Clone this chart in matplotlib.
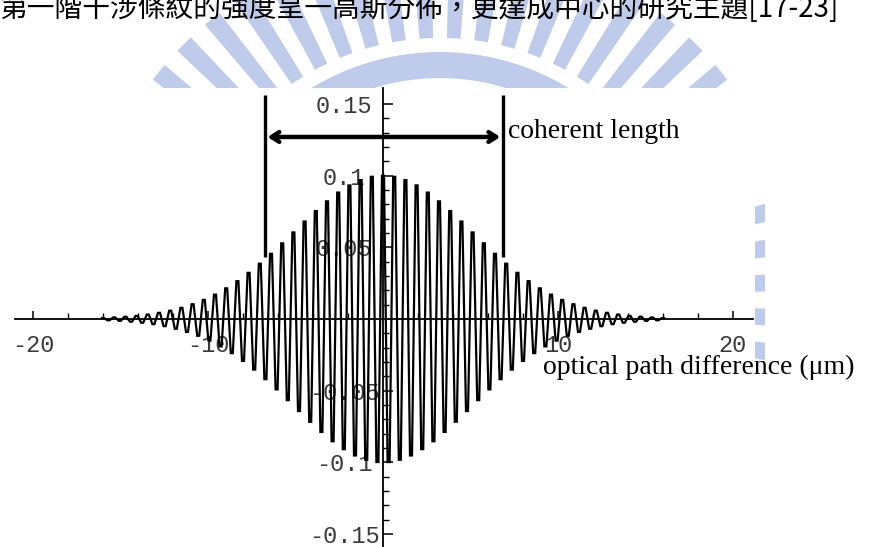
import numpy as np
import matplotlib
matplotlib.use("Agg")
import matplotlib.pyplot as plt
from matplotlib.patches import Polygon, Rectangle
from matplotlib.ticker import FixedLocator, FixedFormatter

# ---- data -------------------------------------------------------------
# fringe extrema spacing (half of the fringe period), micrometres
half_period = 0.32
# magnitude of successive fringe extrema from the centre (x = 0) outwards to x = 16 um
peak_abs = [0.1000, 0.0998, 0.0992, 0.0982, 0.0969, 0.0952, 0.0932, 0.0908, 0.0882,
            0.0853, 0.0821, 0.0788, 0.0753, 0.0717, 0.0680, 0.0642, 0.0604, 0.0566,
            0.0528, 0.0491, 0.0455, 0.0420, 0.0386, 0.0353, 0.0322, 0.0292, 0.0264,
            0.0238, 0.0214, 0.0191, 0.0170, 0.0151, 0.0133, 0.0117, 0.0103, 0.0090,
            0.0078, 0.0068, 0.0058, 0.0050, 0.0043, 0.0036, 0.0031, 0.0026, 0.0022,
            0.0019, 0.0016, 0.0013, 0.0011, 0.0009, 0.0007]
# coherence-length markers (um) and their extent in intensity
coherent_edges = [-6.75, 6.85]
marker_bottom = 0.043
marker_top = 0.156
arrow_level = 0.127

x_major = [-20, -10, 10, 20]
x_labels = ["-20", "-10", "10", "20"]
x_minor = [-18, -16, -14, -12, -8, -6, -4, -2, 2, 4, 6, 8, 12, 14, 16, 18]
y_major = [-0.15, -0.1, -0.05, 0.05, 0.1, 0.15]
y_labels = ["-0.15", "-0.1", "-0.05", "0.05", "0.1", "0.15"]
y_minor = [v / 100 for v in range(-14, 15) if v % 5 != 0]

caption = "第一階干涉條紋的強度呈一高斯分佈，更達成中心的研究主題[17-23]"

# ---- build the interferogram trace from the extrema ---------------------
# each extremum is drawn as a short flat crest, giving the blocky fringe look
mags = np.array(peak_abs[::-1][:-1] + peak_abs)
k = np.arange(-(len(peak_abs) - 1), len(peak_abs))
xc = k * half_period
yc = np.where(k % 2 == 0, 1.0, -1.0) * mags
crest = 0.18 * half_period
xs = np.column_stack([xc - crest, xc + crest]).ravel()
ys = np.repeat(yc, 2)

# ---- figure -------------------------------------------------------------
W, H = 871, 547
fig = plt.figure(figsize=(W / 100, H / 100), dpi=100)
fig.patch.set_facecolor("white")

# background layer in pixel units: faint emblem behind the pasted plot
bg = fig.add_axes([0, 0, 1, 1], zorder=0)
bg.set_xlim(0, W)
bg.set_ylim(H, 0)
bg.axis("off")
wm = "#bfcbea"
cx, cy = 440.0, 300.0


def ring_piece(r0, r1, a0, a1, n=12):
    a = np.radians(np.linspace(a0, a1, n))
    outer = np.c_[cx + r1 * np.sin(a), cy - r1 * np.cos(a)]
    inner = np.c_[cx + r0 * np.sin(a[::-1]), cy - r0 * np.cos(a[::-1])]
    return np.vstack([outer, inner])


for ang in np.arange(-99, 100, 6.0):
    bg.add_patch(Polygon(ring_piece(262, 362, ang - 1.5, ang + 1.5), closed=True,
                         facecolor=wm, edgecolor="none"))
bg.add_patch(Polygon(ring_piece(222, 248, -80, 80, 60), closed=True,
                     facecolor=wm, edgecolor="none"))
# white card of the plot itself
bg.add_patch(Rectangle((0, 88), 755, H - 88, facecolor="white", edgecolor="none"))
bg.add_patch(Rectangle((765, 100), W - 765, H - 100, facecolor="white", edgecolor="none"))
bg.add_patch(Rectangle((754, 410), 12, H - 410, facecolor="white", edgecolor="none"))
bg.add_patch(Rectangle((754, 88), 12, 100, facecolor="white", edgecolor="none"))

# caption line running off the top edge
fig.text(0.0, 1 - 17 / H, caption, fontsize=20, ha="left", va="baseline",
         family=["Noto Sans CJK TC", "DejaVu Sans"], color="black", zorder=2)

ax = fig.add_axes([0, 0, 1, 1], zorder=1)
ax.set_xlim(-21.886, 27.886)
ax.set_ylim(-0.15907, 0.22256)
ax.patch.set_alpha(0)

for s in ("top", "right"):
    ax.spines[s].set_visible(False)
ax.spines["left"].set_position(("data", 0))
ax.spines["bottom"].set_position(("data", 0))
ax.spines["bottom"].set_bounds(-21.03, 21.14)
ax.spines["left"].set_bounds(-0.159, 0.1612)
for s in ("left", "bottom"):
    ax.spines[s].set_linewidth(1.3)
    ax.spines[s].set_color("black")

ax.xaxis.set_major_locator(FixedLocator(x_major))
ax.xaxis.set_major_formatter(FixedFormatter(x_labels))
ax.xaxis.set_minor_locator(FixedLocator(x_minor))
ax.yaxis.set_major_locator(FixedLocator(y_major))
ax.yaxis.set_major_formatter(FixedFormatter(y_labels))
ax.yaxis.set_minor_locator(FixedLocator(y_minor))

mono = "Liberation Mono"
ax.tick_params(axis="x", which="major", direction="in", length=6, width=1.1,
               pad=11, labelsize=17, labelcolor="#3a3a3a")
ax.tick_params(axis="x", which="minor", direction="in", length=4, width=1.0)
ax.tick_params(axis="y", which="major", direction="in", length=7, width=1.1,
               pad=28, labelsize=17, labelcolor="#3a3a3a")
ax.tick_params(axis="y", which="minor", direction="in", length=4, width=1.0)
for lab in ax.get_xticklabels():
    lab.set_fontfamily(mono)
for lab in ax.get_yticklabels():
    lab.set_fontfamily(mono)
    lab.set_horizontalalignment("center")

# interferogram
ax.plot(xs, ys, color="black", lw=1.6, zorder=3, solid_joinstyle="miter")

# coherence length markers
ax.vlines(coherent_edges, marker_bottom, marker_top, color="black", lw=2.4, zorder=4)
ax.annotate("", xy=(coherent_edges[0] + 0.15, arrow_level),
            xytext=(coherent_edges[1] - 0.15, arrow_level),
            arrowprops=dict(arrowstyle="<->,head_length=0.55,head_width=0.35",
                            lw=3.2, color="black", shrinkA=0, shrinkB=0),
            zorder=4)

serif = "Liberation Serif"
ax.text(coherent_edges[1] + 0.3, arrow_level + 0.004, "coherent length",
        fontsize=20, family=serif, ha="left", va="center")
ax.text(9.14, -0.034, "optical path difference (\u03bcm)",
        fontsize=20, family=serif, ha="left", va="center")

fig.savefig("out.png", dpi=100, facecolor="white")
